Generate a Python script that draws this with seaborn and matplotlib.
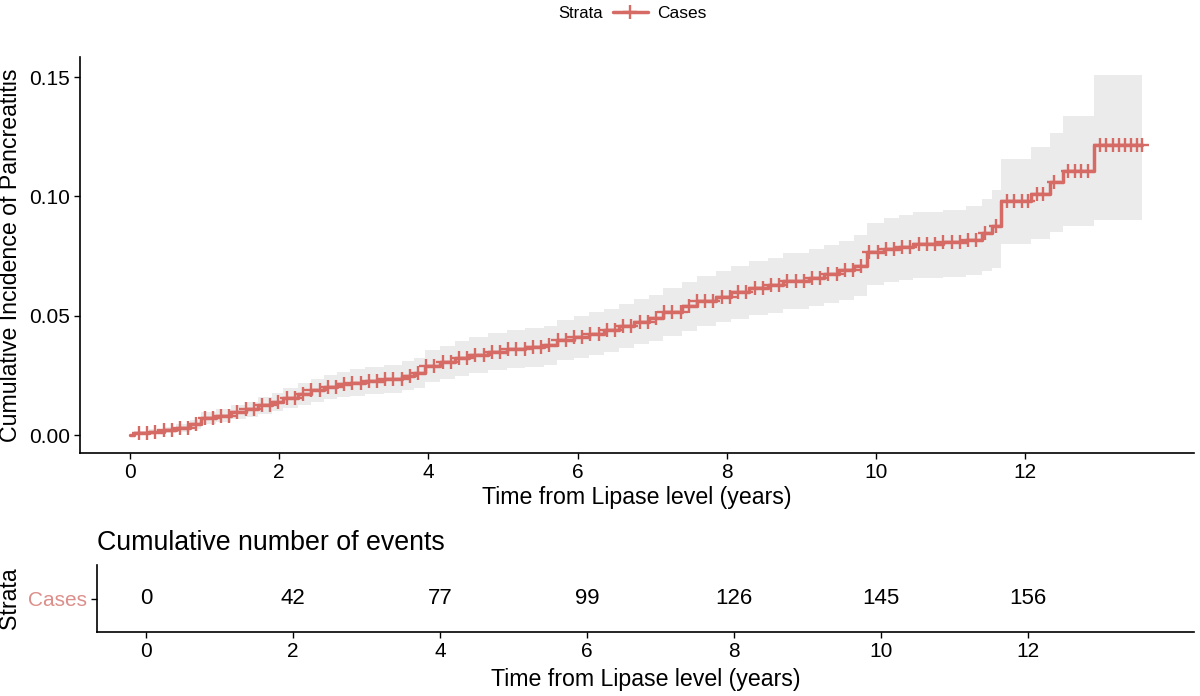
import numpy as np
import pandas as pd
import matplotlib
matplotlib.use("Agg")
import matplotlib.pyplot as plt
import seaborn as sns
from matplotlib.lines import Line2D

# ---------------- data ----------------
step_times = [0.00, 0.05, 0.25, 0.45, 0.62, 0.80, 0.95, 1.15, 1.35, 1.55, 1.72, 1.90,
              2.05, 2.25, 2.42, 2.60, 2.78, 2.95, 3.15, 3.40, 3.65, 3.80, 3.95, 4.15,
              4.35, 4.55, 4.80, 5.05, 5.30, 5.55, 5.72, 5.95, 6.15, 6.35, 6.55, 6.75,
              6.95, 7.15, 7.40, 7.60, 7.85, 8.05, 8.30, 8.55, 8.75, 9.10, 9.30, 9.50,
              9.70, 9.88, 10.10, 10.30, 10.50, 10.90, 11.20, 11.42, 11.55, 11.67, 12.07,
              12.33, 12.50, 12.92, 13.56]
estimate = [0.0000, 0.0008, 0.0015, 0.0022, 0.0030, 0.0045, 0.0072, 0.0082, 0.0095, 0.0108,
            0.0124, 0.0138, 0.0155, 0.0172, 0.0188, 0.0200, 0.0212, 0.0220, 0.0228, 0.0236,
            0.0248, 0.0262, 0.0290, 0.0305, 0.0322, 0.0335, 0.0350, 0.0360, 0.0368, 0.0376,
            0.0398, 0.0412, 0.0425, 0.0440, 0.0458, 0.0475, 0.0490, 0.0515, 0.0540, 0.0562,
            0.0580, 0.0598, 0.0615, 0.0628, 0.0645, 0.0660, 0.0675, 0.0690, 0.0710, 0.0765,
            0.0780, 0.0790, 0.0800, 0.0808, 0.0818, 0.0845, 0.0874, 0.0980, 0.1010, 0.1060,
            0.1105, 0.1214, 0.1214]
lower = [0.0000, 0.0000, 0.0005, 0.0010, 0.0015, 0.0026, 0.0048, 0.0056, 0.0066, 0.0076,
         0.0089, 0.0100, 0.0113, 0.0127, 0.0140, 0.0150, 0.0159, 0.0165, 0.0171, 0.0177,
         0.0187, 0.0199, 0.0222, 0.0235, 0.0248, 0.0259, 0.0272, 0.0280, 0.0287, 0.0293,
         0.0313, 0.0325, 0.0336, 0.0350, 0.0365, 0.0380, 0.0393, 0.0415, 0.0437, 0.0457,
         0.0472, 0.0487, 0.0502, 0.0513, 0.0528, 0.0540, 0.0553, 0.0566, 0.0582, 0.0630,
         0.0642, 0.0650, 0.0657, 0.0662, 0.0670, 0.0688, 0.0700, 0.0800, 0.0820, 0.0849,
         0.0874, 0.0903, 0.0903]
upper = [0.0000, 0.0017, 0.0025, 0.0034, 0.0045, 0.0064, 0.0096, 0.0108, 0.0124, 0.0140,
         0.0159, 0.0176, 0.0197, 0.0217, 0.0236, 0.0250, 0.0265, 0.0275, 0.0285, 0.0295,
         0.0309, 0.0325, 0.0358, 0.0375, 0.0396, 0.0411, 0.0428, 0.0440, 0.0449, 0.0459,
         0.0483, 0.0499, 0.0514, 0.0530, 0.0551, 0.0570, 0.0587, 0.0615, 0.0643, 0.0667,
         0.0688, 0.0709, 0.0728, 0.0743, 0.0762, 0.0780, 0.0797, 0.0814, 0.0838, 0.0890,
         0.0908, 0.0920, 0.0933, 0.0944, 0.0958, 0.0990, 0.1025, 0.1155, 0.1206, 0.1265,
         0.1336, 0.1510, 0.1510]

censor_times = [0.12, 0.23, 0.34, 0.45, 0.56, 0.67, 0.78, 0.89, 1.00, 1.11, 1.22, 1.33,
                1.44, 1.55, 1.66, 1.77, 1.88, 1.99, 2.10, 2.21, 2.32, 2.43, 2.54, 2.65,
                2.76, 2.87, 2.98, 3.09, 3.20, 3.31, 3.42, 3.53, 3.64, 3.75, 3.86, 3.97,
                4.08, 4.19, 4.30, 4.41, 4.52, 4.63, 4.74, 4.85, 4.96, 5.07, 5.18, 5.29,
                5.40, 5.51, 5.62, 5.73, 5.84, 5.95, 6.06, 6.17, 6.28, 6.39, 6.50, 6.61,
                6.72, 6.83, 6.94, 7.05, 7.16, 7.27, 7.38, 7.49, 7.60, 7.71, 7.82, 7.93,
                8.04, 8.15, 8.26, 8.37, 8.48, 8.59, 8.70, 8.81, 8.92, 9.03, 9.14, 9.25,
                9.36, 9.47, 9.58, 9.69, 9.80, 9.91, 10.02, 10.13, 10.24, 10.35, 10.46,
                10.57, 10.68, 10.79, 10.90, 11.01, 11.12, 11.23, 11.34, 11.46, 11.60,
                11.75, 11.85, 11.95, 12.04, 12.15, 12.24, 12.38, 12.57, 12.66, 12.75,
                12.84, 13.00, 13.08, 13.17, 13.25, 13.33, 13.41, 13.49, 13.56]

table_times = [0, 2, 4, 6, 8, 10, 12]
table_counts = [0, 42, 77, 99, 126, 145, 156]
strata_name = "Cases"

x_ticks = [0, 2, 4, 6, 8, 10, 12]
y_ticks = [0.00, 0.05, 0.10, 0.15]
y_tick_labels = ["0.00", "0.05", "0.10", "0.15"]

# ---------------- style ----------------
sns.set_theme(style="white")
plt.rcParams["font.family"] = ["Liberation Sans", "DejaVu Sans"]
plt.rcParams["text.color"] = "black"
plt.rcParams["axes.labelcolor"] = "black"
line_color = "#D66A65"
label_color = "#DC8E8A"
band_color = "#EBEBEB"

fig = plt.figure(figsize=(12, 6.96), dpi=100)
ax = fig.add_axes([80 / 1200, 1 - 453 / 696, 1114 / 1200, 396 / 696])
axt = fig.add_axes([97 / 1200, 1 - 632 / 696, 1097 / 1200, 67 / 696])

xlim = (-0.67, 14.26)

# ---------------- main curve ----------------
df = pd.DataFrame({"time": step_times, "est": estimate, "lo": lower, "hi": upper})
ax.fill_between(df["time"], df["lo"], df["hi"], step="post", color=band_color, lw=0, zorder=1)
sns.lineplot(data=df, x="time", y="est", drawstyle="steps-post", color=line_color,
             lw=2.5, estimator=None, ax=ax, zorder=3)

st = np.array(step_times)
est_arr = np.array(estimate)
idx = np.searchsorted(st, np.array(censor_times), side="right") - 1
cens_df = pd.DataFrame({"time": censor_times, "est": est_arr[idx]})
sns.scatterplot(data=cens_df, x="time", y="est", marker="+", s=95, color=line_color,
                linewidth=1.7, ax=ax, zorder=4, legend=False)

ax.set_xlim(*xlim)
ax.set_ylim(-0.0075, 0.1584)
ax.set_xticks(x_ticks)
ax.set_xticklabels([str(t) for t in x_ticks])
ax.set_yticks(y_ticks)
ax.set_yticklabels(y_tick_labels)
ax.set_xlabel("Time from Lipase level (years)", fontsize=16.7, labelpad=3)
ax.set_ylabel("Cumulative Incidence of Pancreatitis", fontsize=16.7, labelpad=5)
for a in (ax, axt):
    sns.despine(ax=a)
    for s in ("left", "bottom"):
        a.spines[s].set_color("black")
        a.spines[s].set_linewidth(1.2)
    a.tick_params(axis="both", direction="out", length=4, width=1, color="black",
                  labelsize=15, labelcolor="black", bottom=True, left=True, pad=3)

# ---------------- legend ----------------
fig.text(603 / 1200, 1 - 13 / 696, "Strata", ha="right", va="center", fontsize=12)
handle = Line2D([], [], color=line_color, lw=2.5, marker="+", markersize=10,
                markeredgewidth=1.7)
fig.legend([handle], [strata_name], loc="center left",
           bbox_to_anchor=(613 / 1200, 1 - 13 / 696),
           frameon=False, fontsize=12.5, handlelength=2.0, handletextpad=0.55,
           borderpad=0, borderaxespad=0)

# ---------------- risk table ----------------
axt.set_xlim(*xlim)
axt.set_ylim(0, 1)
for t, c in zip(table_times, table_counts):
    axt.text(t, 0.5, str(c), ha="center", va="center", fontsize=16, color="black")
axt.set_xticks(x_ticks)
axt.set_xticklabels([str(t) for t in x_ticks])
axt.set_yticks([0.5])
axt.set_yticklabels([strata_name])
axt.get_yticklabels()[0].set_color(label_color)
axt.set_xlabel("Time from Lipase level (years)", fontsize=16.7, labelpad=5)
axt.set_ylabel("Strata", fontsize=16.7, labelpad=5)
axt.set_title("Cumulative number of events", loc="left", fontsize=19.3, pad=11)

fig.savefig("out.png", dpi=100)
